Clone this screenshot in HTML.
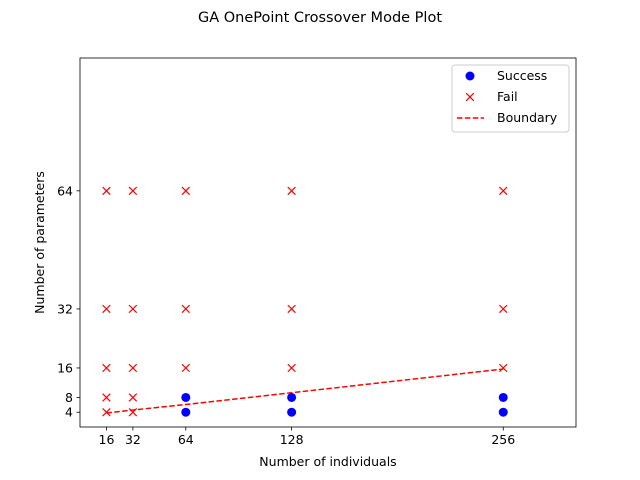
<!DOCTYPE html>
<html><head><meta charset="utf-8"><style>
body{margin:0;background:#fff}
svg{display:block;font-family:"DejaVu Sans","Liberation Sans",sans-serif}
</style></head><body>
<svg id="chart" width="640" height="480" xmlns="http://www.w3.org/2000/svg">
<rect width="640" height="480" fill="#fff"/>
<text x="320" y="22" text-anchor="middle" font-size="14.5">GA OnePoint Crossover Mode Plot</text>
<g id="plot"></g>
</svg>
<script>
const xTicks=[16,32,64,128,256];
const yTicks=[4,8,16,32,64];
const successX=[64,64,128,128,256,256];
const successY=[4,8,4,8,4,8];
const failX=[16,16,16,16,16,32,32,32,32,32,64,64,64,128,128,128,256,256,256];
const failY=[4,8,16,32,64,4,8,16,32,64,16,32,64,16,32,64,16,32,64];
const boundaryX=[16,32,64,128,256];
const boundaryY=[3.8,4.6,6.1,9.3,15.7];
const L=80,R=576,T=58,B=427,xmin=0,xmax=300,ymin=0,ymax=100;
const sx=v=>L+(v-xmin)/(xmax-xmin)*(R-L);
const sy=v=>B-(v-ymin)/(ymax-ymin)*(B-T);
const NS="http://www.w3.org/2000/svg";
const g=document.getElementById('plot');
function mk(t,a,p){const e=document.createElementNS(NS,t);for(const k in a)e.setAttribute(k,a[k]);(p||g).appendChild(e);return e;}
let d=boundaryX.map((x,i)=>(i?'L':'M')+sx(x)+' '+sy(boundaryY[i])).join(' ');
const bl=mk('path',{d:d,fill:'none',stroke:'#ff0000','stroke-width':1.5,'stroke-dasharray':'5.5,2.4'});


successX.forEach((x,i)=>{const c=mk('circle',{cx:sx(x),cy:sy(successY[i]),r:4.5,fill:'#0000ff'});

});
failX.forEach((x,i)=>{const cx=sx(x),cy=sy(failY[i]),s=3.8;
const p=mk('path',{d:`M${cx-s} ${cy-s}L${cx+s} ${cy+s}M${cx-s} ${cy+s}L${cx+s} ${cy-s}`,stroke:'#ff0000','stroke-width':1.2});

});
const fr=mk('rect',{x:L,y:T,width:R-L,height:B-T,fill:'none',stroke:'#000','stroke-width':0.8});


xTicks.forEach(v=>{const x=sx(v);mk('line',{x1:x,x2:x,y1:B,y2:B+3.5,stroke:'#000','stroke-width':0.8});
const t=mk('text',{x:x,y:B+17,'text-anchor':'middle','font-size':12.5});t.textContent=v;

});
yTicks.forEach(v=>{const y=sy(v);mk('line',{x1:L,x2:L-3.5,y1:y,y2:y,stroke:'#000','stroke-width':0.8});
const t=mk('text',{x:L-7,y:y+4.5,'text-anchor':'end','font-size':12.5});t.textContent=v;

});
const xt=mk('text',{x:(L+R)/2,y:466,'text-anchor':'middle','font-size':12.5});xt.textContent='Number of individuals';


const yt=mk('text',{x:0,y:0,'text-anchor':'middle','font-size':12.5,transform:`translate(44,${(T+B)/2}) rotate(-90)`});yt.textContent='Number of parameters';


const lg=mk('g',{});


mk('rect',{x:452,y:65,width:117,height:67,rx:3,fill:'#fff',stroke:'#ccc','stroke-width':1},lg);
mk('circle',{cx:470,cy:76,r:4.5,fill:'#0000ff'},lg);
mk('path',{d:'M466.2 93.2L473.8 100.8M466.2 100.8L473.8 93.2',stroke:'#ff0000','stroke-width':1.2},lg);
mk('line',{x1:457,x2:484,y1:118,y2:118,stroke:'#ff0000','stroke-width':1.5,'stroke-dasharray':'5.5,2.4'},lg);
[['Success',80],['Fail',101],['Boundary',122]].forEach(([s,y])=>{const t=mk('text',{x:497,y:y,'font-size':12.5},lg);t.textContent=s;

});
</script>
</body></html>
